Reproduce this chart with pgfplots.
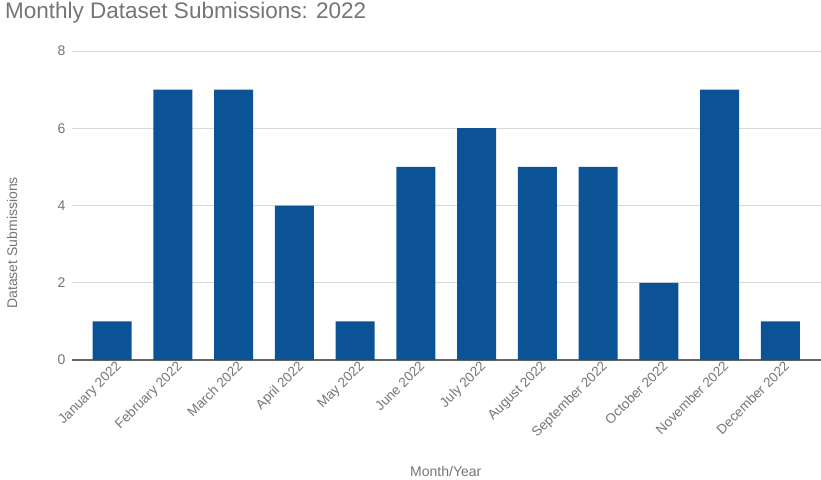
\documentclass[border=0pt]{standalone}
\usepackage{fontspec}
\setmainfont{Liberation Sans}
\usepackage{pgfplots}
\pgfplotsset{compat=1.18}
\definecolor{barblue}{HTML}{0B5394}
\definecolor{txtgray}{HTML}{757575}
\definecolor{gridgray}{HTML}{D9D9D9}
\definecolor{axisgray}{HTML}{666666}
\begin{document}
\begin{tikzpicture}[x=1pt,y=1pt]
\useasboundingbox (0,0) rectangle (821,479);
\node[anchor=base west, inner sep=0pt, font=\fontsize{22.5}{26}\selectfont, text=txtgray] at (5,460) {Monthly Dataset Submissions: 2022};
\begin{axis}[
  at={(72pt,119pt)}, anchor=south west,
  scale only axis, width=749pt, height=309pt,
  xmin=-0.66, xmax=11.67, ymin=0, ymax=8,
  ytick={0,2,4,6,8},
  xtick={0,...,11},
  xticklabels={January 2022,February 2022,March 2022,April 2022,May 2022,June 2022,July 2022,August 2022,September 2022,October 2022,November 2022,December 2022},
  x tick label style={rotate=45, anchor=north east, font=\fontsize{13.5}{15}\selectfont, text=txtgray, inner sep=2pt, xshift=4pt},
  y tick label style={font=\fontsize{14}{16}\selectfont, text=txtgray, xshift=-3pt},
  major tick length=0pt,
  axis x line*=bottom, axis y line*=left,
  y axis line style={draw=none},
  x axis line style={draw=axisgray, line width=1.2pt},
  ymajorgrids, grid style={draw=gridgray, line width=0.9pt},
  /pgf/number format/assume math mode=true,
  xlabel={Month/Year}, ylabel={Dataset Submissions},
  xlabel style={at={(axis description cs:0.499,-0.362)}, anchor=center, font=\fontsize{14}{16}\selectfont, text=txtgray},
  ylabel style={at={(axis description cs:-0.080,0.379)}, anchor=center, rotate=0, font=\fontsize{14}{16}\selectfont, text=txtgray},
  clip=false,
]
\addplot[ybar, bar width=39pt, fill=barblue, draw=none] coordinates {
(0,1) (1,7) (2,7) (3,4) (4,1) (5,5) (6,6) (7,5) (8,5) (9,2) (10,7) (11,1)
};
\end{axis}
\end{tikzpicture}
\end{document}
